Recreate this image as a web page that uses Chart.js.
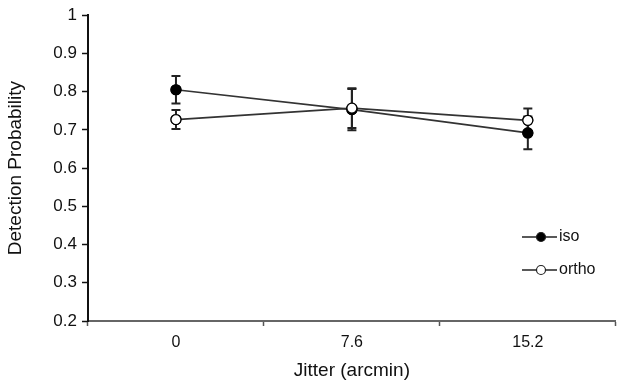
<!DOCTYPE html>
<html><head><meta charset="utf-8">
<script src="https://cdn.jsdelivr.net/npm/chart.js@4/dist/chart.umd.min.js"></script>
<style>html,body{margin:0;padding:0;background:#fff}#wrap{width:622px;height:386px}</style>
</head><body><div id="wrap"><canvas id="c" width="622" height="386"></canvas></div>
<script>
const categories = ['0', '7.6', '15.2'];
const isoValues = [0.805, 0.753, 0.692];
const isoErrors = [0.036, 0.054, 0.043];
const orthoValues = [0.727, 0.757, 0.725];
const orthoErrors = [0.025, 0.052, 0.031];
const yTicks = [0.2, 0.3, 0.4, 0.5, 0.6, 0.7, 0.8, 0.9, 1];
const FONT = "'Liberation Sans', Arial, sans-serif";

const errorBars = {
  id: 'errorBars',
  afterDatasetsDraw(chart) {
    const ctx = chart.ctx, y = chart.scales.y;
    ctx.save();
    ctx.strokeStyle = '#222'; ctx.lineWidth = 2;
    chart.data.datasets.forEach((ds, di) => {
      const meta = chart.getDatasetMeta(di);
      meta.data.forEach((pt, i) => {
        const v = ds.data[i], e = ds.errors[i];
        const yt = y.getPixelForValue(v + e), yb = y.getPixelForValue(v - e);
        ctx.beginPath();
        ctx.moveTo(pt.x, yt); ctx.lineTo(pt.x, yb);
        ctx.moveTo(pt.x - 4.5, yt); ctx.lineTo(pt.x + 4.5, yt);
        ctx.moveTo(pt.x - 4.5, yb); ctx.lineTo(pt.x + 4.5, yb);
        ctx.stroke();
      });
    });
    ctx.restore();
    chart.data.datasets.forEach((ds, di) => {
      chart.getDatasetMeta(di).data.forEach(p => p.draw(ctx, chart.chartArea));
    });
  }
};

const legendPlugin = {
  id: 'inLegend',
  afterDraw(chart) {
    const ctx = chart.ctx;
    ctx.save();
    chart.data.datasets.forEach((ds, i) => {
      const yy = 237 + i * 33;
      ctx.strokeStyle = '#222'; ctx.lineWidth = 1.5;
      ctx.beginPath(); ctx.moveTo(522, yy); ctx.lineTo(557, yy); ctx.stroke();
      ctx.beginPath(); ctx.arc(541, yy, 4.5, 0, Math.PI * 2);
      ctx.fillStyle = ds.pointBackgroundColor; ctx.fill();
      ctx.lineWidth = 1.2; ctx.stroke();
      ctx.fillStyle = '#111'; ctx.font = '16px ' + FONT;
      ctx.textBaseline = 'middle'; ctx.textAlign = 'left';
      ctx.fillText(ds.label, 559, yy);
    });
    ctx.restore();
  }
};

new Chart(document.getElementById('c'), {
  type: 'line',
  data: {
    labels: categories,
    datasets: [
      { label: 'iso', data: isoValues, errors: isoErrors, borderColor: '#333', borderWidth: 1.7,
        pointBackgroundColor: '#000', pointBorderColor: '#000', pointRadius: 5, pointBorderWidth: 1.2, tension: 0 },
      { label: 'ortho', data: orthoValues, errors: orthoErrors, borderColor: '#333', borderWidth: 1.7,
        pointBackgroundColor: '#fff', pointBorderColor: '#000', pointRadius: 5, pointBorderWidth: 1.2, tension: 0 }
    ]
  },
  options: {
    responsive: false, animation: false, devicePixelRatio: 1,
    layout: { padding: { top: 15, right: 2, left: 0, bottom: 0 } },
    plugins: { legend: { display: false }, tooltip: { enabled: false } },
    scales: {
      x: {
        offset: true,
        afterFit(s) { s.height = 65; },
        grid: { offset: true, drawOnChartArea: false, tickLength: 5, color: '#555', tickWidth: 1.5 },
        border: { color: '#666', width: 2 },
        ticks: { color: '#111', font: { family: FONT, size: 16 }, padding: 7, maxRotation: 0 },
        title: { display: true, text: 'Jitter (arcmin)', color: '#111', font: { family: FONT, size: 19 }, padding: { top: 4 } }
      },
      y: {
        min: 0.2, max: 1,
        afterFit(s) { s.width = 88; },
        afterBuildTicks(s) { s.ticks = yTicks.map(v => ({ value: v })); },
        grid: { drawOnChartArea: false, tickLength: 6, color: '#111', tickWidth: 1.5 },
        border: { color: '#111', width: 2 },
        ticks: { color: '#111', font: { family: FONT, size: 17 }, padding: 5,
          callback: v => String(Math.round(v * 10) / 10) },
        title: { display: true, text: 'Detection Probability', color: '#111', font: { family: FONT, size: 19 }, padding: { bottom: 6 } }
      }
    }
  },
  plugins: [errorBars, legendPlugin]
});
</script></body></html>
